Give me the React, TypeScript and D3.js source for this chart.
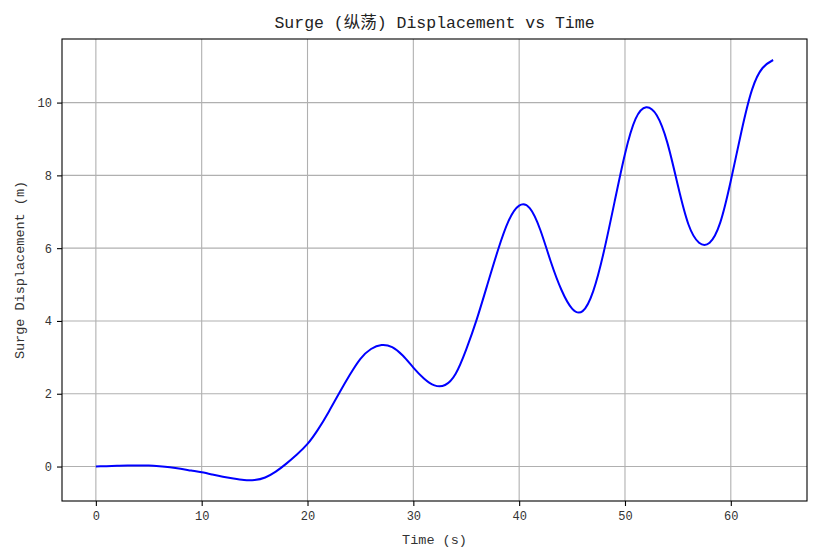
import React, { useEffect, useRef } from 'react';
import * as d3 from 'd3';

const times: number[] = d3.range(0, 65);
const surge: number[] = [
  0, 0.01, 0.02, 0.03, 0.03, 0.03, 0.01, -0.02, -0.06, -0.11,
  -0.16, -0.22, -0.28, -0.33, -0.37, -0.37, -0.3, -0.14, 0.08, 0.33,
  0.62, 1.02, 1.5, 2.02, 2.52, 2.96, 3.23, 3.34, 3.28, 3.05,
  2.72, 2.42, 2.23, 2.24, 2.55, 3.22, 4.05, 5.0, 5.95, 6.75,
  7.17, 7.1, 6.5, 5.62, 4.85, 4.34, 4.27, 4.82, 5.9, 7.25,
  8.59, 9.55, 9.87, 9.65, 8.9, 7.72, 6.65, 6.15, 6.15, 6.7,
  7.85, 9.2, 10.35, 10.95, 11.17,
];
const xTicks: number[] = [0, 10, 20, 30, 40, 50, 60];
const yTicks: number[] = [0, 2, 4, 6, 8, 10];

const TITLE = 'Surge (纵荡) Displacement vs Time';
const X_LABEL = 'Time (s)';
const Y_LABEL = 'Surge Displacement (m)';

const FONT = '"Liberation Mono", "Noto Sans CJK SC", monospace';

const App: React.FC = () => {
  const svgRef = useRef<SVGSVGElement>(null);

  useEffect(() => {
    if (!svgRef.current) {
      return;
    }
    const width = 817;
    const height = 558;
    const margin = { top: 39, right: 10, bottom: 57, left: 62 };

    const svg = d3.select(svgRef.current);
    svg.selectAll('*').remove();
    svg.attr('width', width).attr('height', height).attr('viewBox', `0 0 ${width} ${height}`);

    const xPad = (d3.max(times)! - d3.min(times)!) * 0.05;
    const yMin = d3.min(surge)!;
    const yMax = d3.max(surge)!;
    const yPad = (yMax - yMin) * 0.05;

    const x = d3
      .scaleLinear()
      .domain([d3.min(times)! - xPad, d3.max(times)! + xPad])
      .range([margin.left, width - margin.right]);
    const y = d3
      .scaleLinear()
      .domain([yMin - yPad, yMax + yPad])
      .range([height - margin.bottom, margin.top]);

    svg.append('rect').attr('width', width).attr('height', height).attr('fill', '#ffffff');

    // grid
    const grid = svg.append('g');
    xTicks.forEach((t) => {
      grid
        .append('line')
        .attr('x1', x(t))
        .attr('x2', x(t))
        .attr('y1', margin.top)
        .attr('y2', height - margin.bottom)
        .attr('stroke', '#b0b0b0')
        .attr('stroke-width', 1.1);
    });
    yTicks.forEach((t) => {
      grid
        .append('line')
        .attr('x1', margin.left)
        .attr('x2', width - margin.right)
        .attr('y1', y(t))
        .attr('y2', y(t))
        .attr('stroke', '#b0b0b0')
        .attr('stroke-width', 1.1);
    });

    const line = d3
      .line<number>()
      .x((_, i) => x(times[i]))
      .y((d) => y(d))
      .curve(d3.curveNatural);

    svg
      .append('path')
      .datum(surge)
      .attr('d', line)
      .attr('fill', 'none')
      .attr('stroke', '#0000ff')
      .attr('stroke-width', 2);

    // frame
    svg
      .append('rect')
      .attr('x', margin.left)
      .attr('y', margin.top)
      .attr('width', width - margin.left - margin.right)
      .attr('height', height - margin.top - margin.bottom)
      .attr('fill', 'none')
      .attr('stroke', '#000000')
      .attr('stroke-width', 1.1);

    const xAxis = d3
      .axisBottom(x)
      .tickValues(xTicks)
      .tickSize(5)
      .tickPadding(5)
      .tickFormat(d3.format('d'));
    const gx = svg.append('g').attr('transform', `translate(0, ${height - margin.bottom})`).call(xAxis);
    gx.select('.domain').remove();

    const yAxis = d3
      .axisLeft(y)
      .tickValues(yTicks)
      .tickSize(5)
      .tickPadding(5)
      .tickFormat(d3.format('d'));
    const gy = svg.append('g').attr('transform', `translate(${margin.left}, 0)`).call(yAxis);
    gy.select('.domain').remove();

    [gx, gy].forEach((g) => {
      g.selectAll('line').attr('stroke', '#000000').attr('stroke-width', 1.1);
      g.selectAll('text')
        .attr('fill', '#333333')
        .style('font-family', FONT)
        .style('font-size', '12px');
    });

    svg
      .append('text')
      .attr('x', (margin.left + width - margin.right) / 2)
      .attr('y', 28)
      .attr('text-anchor', 'middle')
      .attr('fill', '#222222')
      .style('font-family', FONT)
      .style('font-size', '16.5px')
      .text(TITLE);

    svg
      .append('text')
      .attr('x', (margin.left + width - margin.right) / 2)
      .attr('y', 544)
      .attr('text-anchor', 'middle')
      .attr('fill', '#333333')
      .style('font-family', FONT)
      .style('font-size', '13.5px')
      .text(X_LABEL);

    svg
      .append('text')
      .attr('transform', `translate(24, ${(margin.top + height - margin.bottom) / 2}) rotate(-90)`)
      .attr('text-anchor', 'middle')
      .attr('fill', '#333333')
      .style('font-family', FONT)
      .style('font-size', '13.5px')
      .text(Y_LABEL);
  }, []);

  return (
    <div style={{ position: 'absolute', left: 0, top: 0 }}>
      <svg ref={svgRef} />
    </div>
  );
};

export default App;
